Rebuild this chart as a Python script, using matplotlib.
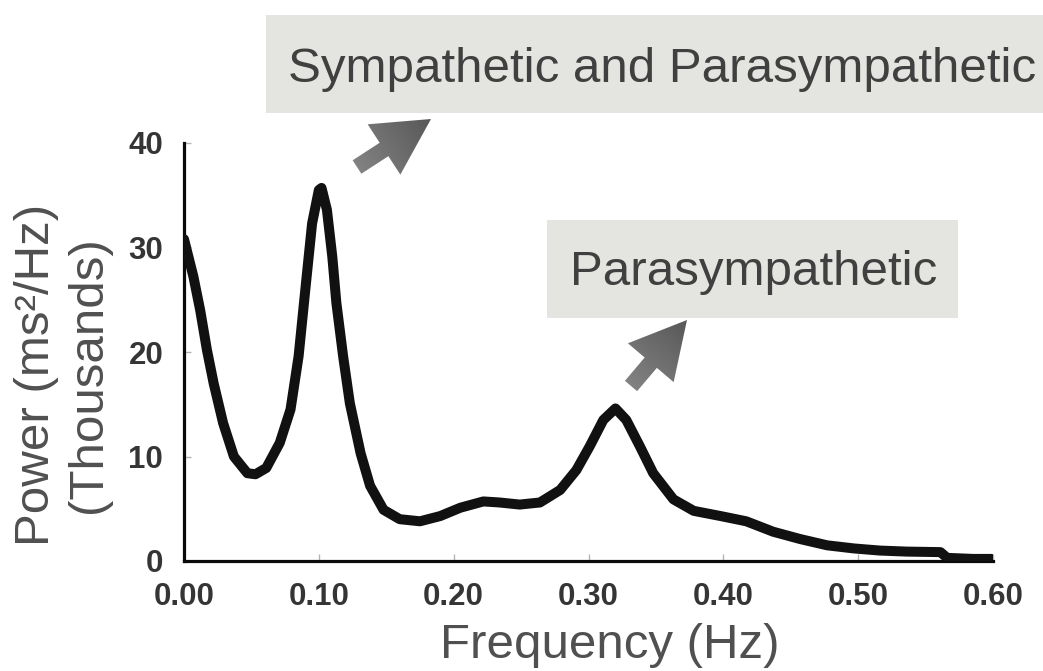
import numpy as np
import matplotlib

matplotlib.use("Agg")
import matplotlib.pyplot as plt
from matplotlib.colors import LinearSegmentedColormap
from matplotlib.patches import FancyArrow, Rectangle

plt.rcParams["font.family"] = ["Liberation Sans", "DejaVu Sans"]

# power spectrum of heart rate variability
freq_hz = [0.000, 0.007, 0.012, 0.017, 0.022, 0.029, 0.037, 0.047, 0.053,
           0.061, 0.071, 0.079, 0.085, 0.090, 0.095, 0.100, 0.102, 0.106,
           0.110, 0.113, 0.118, 0.123, 0.131, 0.138, 0.148, 0.160, 0.175,
           0.190, 0.205, 0.222, 0.234, 0.249, 0.264, 0.279, 0.291, 0.301,
           0.311, 0.320, 0.328, 0.338, 0.348, 0.363, 0.378, 0.398, 0.417,
           0.437, 0.457, 0.477, 0.497, 0.516, 0.536, 0.561, 0.566, 0.585,
           0.599]
power_k = [30.8, 27.2, 24.0, 20.2, 17.0, 13.2, 10.0, 8.4, 8.3,
           8.9, 11.3, 14.5, 19.6, 26.0, 32.3, 35.5, 35.7, 33.6,
           29.1, 24.7, 19.6, 15.1, 10.3, 7.2, 4.9, 4.0, 3.8,
           4.3, 5.1, 5.7, 5.6, 5.4, 5.6, 6.8, 8.7, 11.0,
           13.5, 14.6, 13.5, 11.0, 8.4, 5.9, 4.8, 4.3, 3.8,
           2.8, 2.1, 1.5, 1.2, 1.0, 0.9, 0.85, 0.3, 0.2,
           0.2]

x_ticks = [0.0, 0.1, 0.2, 0.3, 0.4, 0.5, 0.6]
x_tick_labels = ["0.00", "0.10", "0.20", "0.30", "0.40", "0.50", "0.60"]
y_ticks = [0, 10, 20, 30, 40]

band_labels = ["Sympathetic and Parasympathetic", "Parasympathetic"]

W, H = 1043, 671
fig = plt.figure(figsize=(W / 100, H / 100), dpi=100)
fig.patch.set_facecolor("white")

ax = fig.add_axes([184 / W, 110 / H, (993 - 184) / W, (561 - 143) / H])
ax.plot(freq_hz, power_k, color="#111111", lw=7.2,
        solid_joinstyle="round", solid_capstyle="round", zorder=3)
ax.set_xlim(0, 0.6)
ax.set_ylim(0, 40)
ax.set_xticks(x_ticks, x_tick_labels)
ax.set_yticks(y_ticks)
for side in ("top", "right"):
    ax.spines[side].set_visible(False)
for side in ("left", "bottom"):
    ax.spines[side].set_linewidth(2.3)
    ax.spines[side].set_color("#0a0a0a")
ax.tick_params(direction="in", length=5, width=1, color="#b5b5b5",
               labelsize=22.5, labelcolor="#353535", pad=15)
for lab in ax.get_xticklabels() + ax.get_yticklabels():
    lab.set_fontweight("bold")

# overlay in pixel units for the captions, boxes and arrows
ov = fig.add_axes([0, 0, 1, 1], zorder=5)
ov.set_xlim(0, W)
ov.set_ylim(H, 0)
ov.axis("off")
ov.patch.set_alpha(0)

ov.text(63, 375, "Power (ms²/Hz)\n(Thousands)", rotation=90,
        ha="center", va="center", fontsize=35.5, color="#505050",
        multialignment="center", linespacing=1.2)
ov.text(610, 658, "Frequency (Hz)", ha="center", va="baseline",
        fontsize=35.5, color="#505050")

box_col = "#e4e4e0"
ov.add_patch(Rectangle((266, 15), W - 266, 98, facecolor=box_col,
                       edgecolor="none"))
ov.text(288, 82, band_labels[0], ha="left", va="baseline",
        fontsize=35.5, color="#404040")
ov.add_patch(Rectangle((547, 220), 411, 98, facecolor=box_col,
                       edgecolor="none"))
ov.text(570, 285, band_labels[1], ha="left", va="baseline",
        fontsize=35.5, color="#404040")

grad = LinearSegmentedColormap.from_list("arrow", ["#828282", "#585858"])


def block_arrow(tail, tip):
    x0, y0 = tail
    x1, y1 = tip
    arr = FancyArrow(x0, y0, x1 - x0, y1 - y0, width=16, head_width=60,
                     head_length=56, length_includes_head=True,
                     facecolor="none", edgecolor="none")
    ov.add_patch(arr)
    xs = np.linspace(min(x0, x1) - 35, max(x0, x1) + 35, 140)
    ys = np.linspace(min(y0, y1) - 35, max(y0, y1) + 35, 140)
    gx, gy = np.meshgrid(xs, ys)
    d = np.array([x1 - x0, y1 - y0])
    t = ((gx - x0) * d[0] + (gy - y0) * d[1]) / (d @ d)
    img = ov.imshow(np.clip(t, 0, 1), cmap=grad, vmin=0, vmax=1,
                    extent=(xs[0], xs[-1], ys[-1], ys[0]), origin="upper",
                    interpolation="bilinear", zorder=4)
    img.set_clip_path(arr)
    ov.set_xlim(0, W)
    ov.set_ylim(H, 0)


block_arrow((357, 167), (431, 119))
block_arrow((631, 386), (687, 320))

fig.savefig("out.png", dpi=100)
